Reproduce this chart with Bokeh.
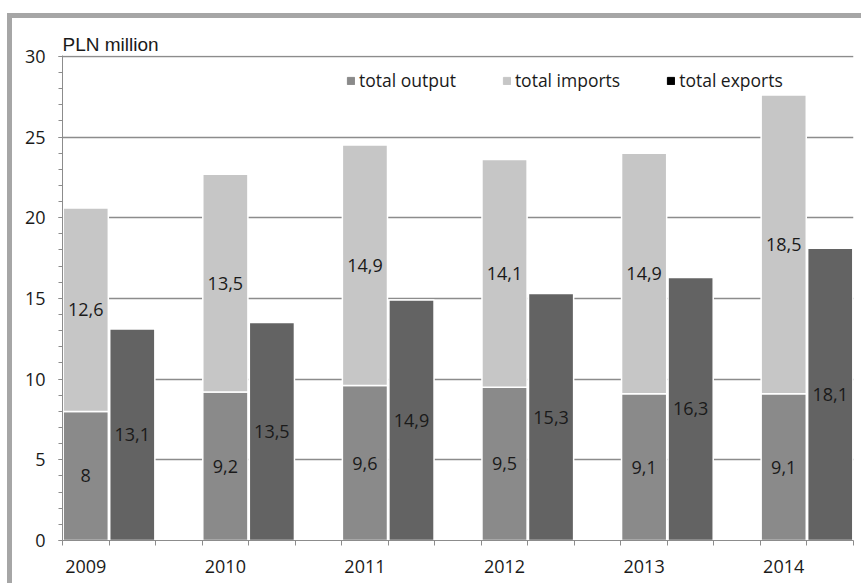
from bokeh.plotting import figure
from bokeh.models import (FixedTicker, Range1d, Legend, LegendItem, ColumnDataSource)
from bokeh.core.properties import value
from bokeh.embed import file_html
from bokeh.resources import INLINE

years = ["2009", "2010", "2011", "2012", "2013", "2014"]
total_output = [8, 9.2, 9.6, 9.5, 9.1, 9.1]
total_imports = [12.6, 13.5, 14.9, 14.1, 14.9, 18.5]
total_exports = [13.1, 13.5, 14.9, 15.3, 16.3, 18.1]
y_ticks = [0, 5, 10, 15, 20, 25, 30]

def fmt(v):
    s = ("%g" % v)
    return s.replace(".", ",")

FONT = "Open Sans"
TXT = "#1a1a1a"
GRID = "#8c8c8c"

n = len(years)
x_out = [3 * i + 0.5 for i in range(n)]
x_exp = [3 * i + 1.5 for i in range(n)]
slots = 3 * n - 1

p = figure(width=854, height=570, output_backend="svg", toolbar_location=None,
           x_range=Range1d(0, slots), y_range=Range1d(0, 30.05),
           min_border_left=50, min_border_right=13, min_border_top=37, min_border_bottom=48)
p.styles = {"margin-left": "7px", "margin-top": "13px",
            "border-left": "5px solid #a6a6a6", "border-top": "5px solid #a6a6a6"}
p.outline_line_color = None
p.background_fill_color = "white"
p.border_fill_color = "white"

p.title.text = "PLN million"
p.title.align = "left"
p.title.text_font = "Liberation Sans"
p.title.text_font_size = "19px"
p.title.text_font_style = "normal"
p.title.text_color = TXT
p.title.standoff = 2

src_out = ColumnDataSource(dict(x=x_out, top=total_output, bottom=[0] * n))
src_imp = ColumnDataSource(dict(x=x_out, bottom=total_output,
                                top=[a + b for a, b in zip(total_output, total_imports)]))
src_exp = ColumnDataSource(dict(x=x_exp, top=total_exports, bottom=[0] * n))

r_out = p.vbar(x="x", top="top", bottom="bottom", width=0.97, source=src_out,
               fill_color="#8a8a8a", line_color="white", line_width=1.5)
r_imp = p.vbar(x="x", top="top", bottom="bottom", width=0.97, source=src_imp,
               fill_color="#c6c6c6", line_color="white", line_width=1.5)
r_exp = p.vbar(x="x", top="top", bottom="bottom", width=0.97, source=src_exp,
               fill_color="#636363", line_color="white", line_width=1.5)
# legend swatches (exports shown black, as in original)
r_out_leg = p.vbar(x=[0], top=[0], width=0, fill_color="#8a8a8a", line_color="#8a8a8a")
r_imp_leg = p.vbar(x=[0], top=[0], width=0, fill_color="#c6c6c6", line_color="#c6c6c6")
r_exp_leg = p.vbar(x=[0], top=[0], width=0, fill_color="black", line_color="black")

# value labels
lab_x = x_out + x_out + x_exp
lab_y = ([v / 2 for v in total_output]
         + [a + b / 2 for a, b in zip(total_output, total_imports)]
         + [v / 2 for v in total_exports])
lab_t = [fmt(v) for v in total_output] + [fmt(v) for v in total_imports] + [fmt(v) for v in total_exports]
p.text(x=lab_x, y=lab_y, text=lab_t, text_align="center", text_baseline="middle",
       text_font=value(FONT), text_font_size="18px", text_color=TXT)

# axes
p.yaxis.ticker = FixedTicker(ticks=y_ticks, minor_ticks=list(range(0, 31)))
p.yaxis.axis_line_color = GRID
p.yaxis.major_tick_line_color = GRID
p.yaxis.minor_tick_line_color = GRID
p.yaxis.major_tick_out = 4
p.yaxis.major_tick_in = 0
p.yaxis.minor_tick_out = 4
p.yaxis.minor_tick_in = 0
p.yaxis.major_label_text_font = FONT
p.yaxis.major_label_text_font_size = "18px"
p.yaxis.major_label_text_color = TXT
p.yaxis.major_label_standoff = 13

p.xaxis.ticker = FixedTicker(ticks=x_out, minor_ticks=list(range(0, slots + 1)))
p.xaxis.major_label_overrides = {x: y for x, y in zip(x_out, years)}
p.xaxis.axis_line_color = GRID
p.xaxis.major_tick_line_color = None
p.xaxis.major_tick_out = 5
p.xaxis.minor_tick_line_color = GRID
p.xaxis.minor_tick_out = 5
p.xaxis.minor_tick_in = 0
p.xaxis.major_label_text_font = FONT
p.xaxis.major_label_text_font_size = "18px"
p.xaxis.major_label_text_color = TXT
p.xaxis.major_label_standoff = 14

p.xgrid.visible = False
p.ygrid.ticker = FixedTicker(ticks=y_ticks)
p.ygrid.grid_line_color = GRID
p.ygrid.grid_line_width = 1.5

legend = Legend(items=[LegendItem(label="total output", renderers=[r_out_leg]),
                       LegendItem(label="total imports", renderers=[r_imp_leg]),
                       LegendItem(label="total exports", renderers=[r_exp_leg])],
                orientation="horizontal", location=(284, 448), padding=0, margin=0,
                glyph_width=9, glyph_height=9, label_standoff=4, spacing=46,
                border_line_color=None, background_fill_alpha=0,
                label_text_font=FONT, label_text_font_size="17.5px", label_text_color=TXT)
p.add_layout(legend)

open("out.html", "w").write(file_html(p, INLINE))
